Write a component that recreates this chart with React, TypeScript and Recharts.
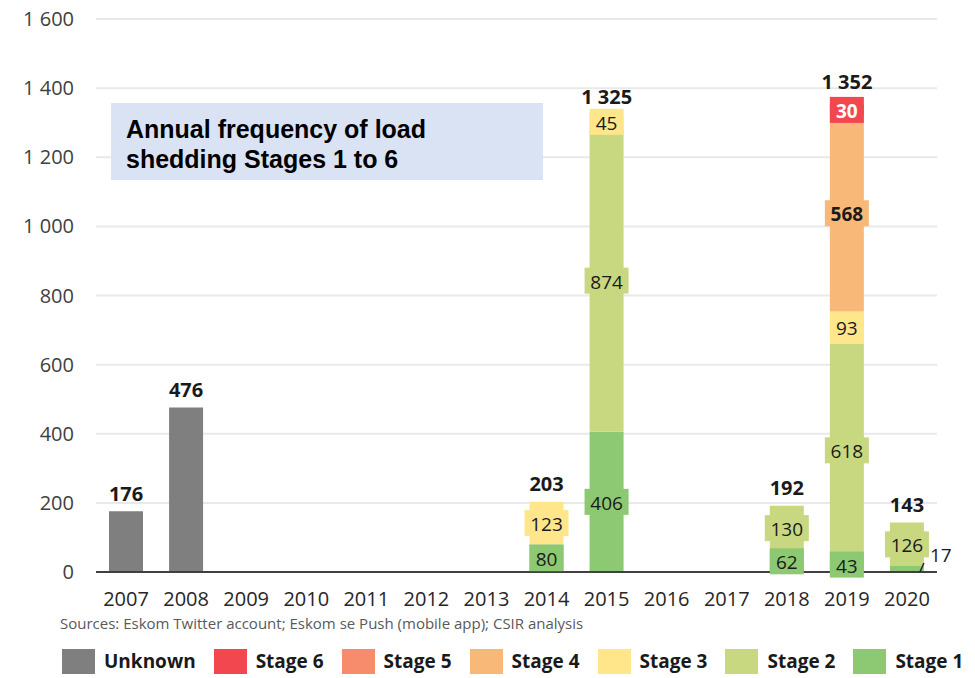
import React from 'react';
import { ComposedChart, Bar, Line, XAxis, YAxis, CartesianGrid, LabelList } from 'recharts';

// load shedding events per year, by stage
const years = ['2007', '2008', '2009', '2010', '2011', '2012', '2013', '2014', '2015', '2016', '2017', '2018', '2019', '2020'];
const unknown = [176, 476, null, null, null, null, null, null, null, null, null, null, null, null];
const stage6 = [null, null, null, null, null, null, null, null, null, null, null, null, 30, null];
const stage5 = [null, null, null, null, null, null, null, null, null, null, null, null, null, null];
const stage4 = [null, null, null, null, null, null, null, null, null, null, null, null, 568, null];
const stage3 = [null, null, null, null, null, null, null, 123, 45, null, null, null, 93, null];
const stage2 = [null, null, null, null, null, null, null, null, 874, null, null, 130, 618, 126];
const stage1 = [null, null, null, null, null, null, null, 80, 406, null, null, 62, 43, 17];
const yTicks = [0, 200, 400, 600, 800, 1000, 1200, 1400, 1600];

const FONT = '"Open Sans", sans-serif';

// bottom of the stack first
const series = [
  { key: 's1', name: 'Stage 1', values: stage1, color: '#8dc872' },
  { key: 's2', name: 'Stage 2', values: stage2, color: '#c8d880' },
  { key: 's3', name: 'Stage 3', values: stage3, color: '#ffe68a' },
  { key: 's4', name: 'Stage 4', values: stage4, color: '#f8b878', bold: true },
  { key: 's5', name: 'Stage 5', values: stage5, color: '#f78c6c' },
  { key: 's6', name: 'Stage 6', values: stage6, color: '#f2474f', textColor: '#ffffff', bold: true },
  { key: 'unk', name: 'Unknown', values: unknown, color: '#7f7f7f', noLabel: true },
];

const data = years.map((year, i) => {
  const row: any = { year };
  let total = 0;
  let top = 0;
  series.forEach((s) => {
    row[s.key] = s.values[i];
    if (s.values[i]) {
      total += s.values[i] as number;
      top = s.values[i] as number;
    }
  });
  row.total = total || null;
  row.top = top;
  return row;
});

const fmt = (v: number) => String(v).replace(/\B(?=(\d{3})+(?!\d))/g, ' ');

const makeSegmentLabel = (color: string, textColor = '#1a1a1a', bold = false) => (props: any) => {
  const { x, y, width, height, value } = props;
  if (value == null || value === 0) return null;
  const cx = x + width / 2;
  const cy = y + height / 2;
  if (value < 20) {
    return (
      <g>
        <line x1={x + width - 4} y1={cy + 3} x2={x + width} y2={cy - 6} stroke="#262626" strokeWidth={1.5} />
        <text x={x + width + 6} y={cy - 14} dominantBaseline="central" fontFamily={FONT} fontSize={19} fill="#1a1a1a">
          {value}
        </text>
      </g>
    );
  }
  const w = value >= 100 ? 44 : width;
  return (
    <g>
      <rect x={cx - w / 2} y={cy - 13} width={w} height={26} fill={color} />
      <text
        x={cx}
        y={cy + 1}
        textAnchor="middle"
        dominantBaseline="central"
        fontFamily={FONT}
        fontSize={19}
        fontWeight={bold ? 700 : 400}
        fill={textColor}
      >
        {value}
      </text>
    </g>
  );
};

const TotalLabel = (props: any) => {
  const { x, y, value, index } = props;
  if (value == null) return null;
  const off = data[index].top < 40 ? 23 : 18;
  return (
    <text x={x} y={y - off} textAnchor="middle" dominantBaseline="central" fontFamily={FONT} fontSize={20} fontWeight={700} fill="#1a1a1a">
      {fmt(value)}
    </text>
  );
};

const legendOrder = ['Unknown', 'Stage 6', 'Stage 5', 'Stage 4', 'Stage 3', 'Stage 2', 'Stage 1'];

export default function App() {
  return (
    <div style={{ position: 'absolute', left: 0, top: 0, width: 975, height: 678, background: '#fff', fontFamily: FONT }}>
      <ComposedChart width={975} height={678} data={data} margin={{ top: 19, right: 38, bottom: 76, left: 0 }} barSize={34}>
        <CartesianGrid vertical={false} stroke="#e9e9e9" strokeWidth={2} />
        <XAxis
          dataKey="year"
          height={30}
          axisLine={{ stroke: '#404040', strokeWidth: 2 }}
          tickLine={false}
          tickSize={0}
          tickMargin={20}
          interval={0}
          tick={{ fill: '#262626', fontSize: 20, fontFamily: FONT }}
        />
        <YAxis
          width={96}
          domain={[0, 1600]}
          ticks={yTicks}
          axisLine={false}
          tickLine={false}
          tickSize={0}
          tickMargin={22}
          tickFormatter={fmt}
          tick={{ fill: '#404040', fontSize: 20, fontFamily: FONT }}
        />
        {series.map((s) => (
          <Bar key={s.key} dataKey={s.key} name={s.name} stackId="a" fill={s.color} isAnimationActive={false}>
            {!s.noLabel && <LabelList dataKey={s.key} content={makeSegmentLabel(s.color, s.textColor, s.bold)} />}
          </Bar>
        ))}
        <Line dataKey="total" stroke="none" dot={false} activeDot={false} isAnimationActive={false} connectNulls={false}>
          <LabelList dataKey="total" content={TotalLabel} />
        </Line>
      </ComposedChart>

      <div
        style={{
          position: 'absolute',
          left: 111,
          top: 103,
          width: 432,
          height: 77,
          background: '#dae3f3',
          boxSizing: 'border-box',
          padding: '11px 0 0 15px',
          fontFamily: '"Liberation Sans", Arial, sans-serif',
          fontWeight: 700,
          fontSize: 25,
          lineHeight: '30px',
          color: '#000',
        }}
      >
        Annual frequency of load
        <br />
        shedding Stages 1 to 6
      </div>

      <div style={{ position: 'absolute', left: 60, top: 614, fontSize: 15, lineHeight: '18px', color: '#595959', whiteSpace: 'nowrap' }}>
        Sources: Eskom Twitter account; Eskom se Push (mobile app); CSIR analysis
      </div>

      <div style={{ position: 'absolute', left: 62, top: 648, display: 'flex', alignItems: 'center', gap: 18 }}>
        {legendOrder.map((name) => {
          const s = series.find((d) => d.name === name)!;
          return (
            <div key={name} style={{ display: 'flex', alignItems: 'center' }}>
              <div style={{ width: 33, height: 25, background: s.color, marginRight: 9 }} />
              <span style={{ fontSize: 19, fontWeight: 700, color: '#1a1a1a' }}>{name}</span>
            </div>
          );
        })}
      </div>
    </div>
  );
}
